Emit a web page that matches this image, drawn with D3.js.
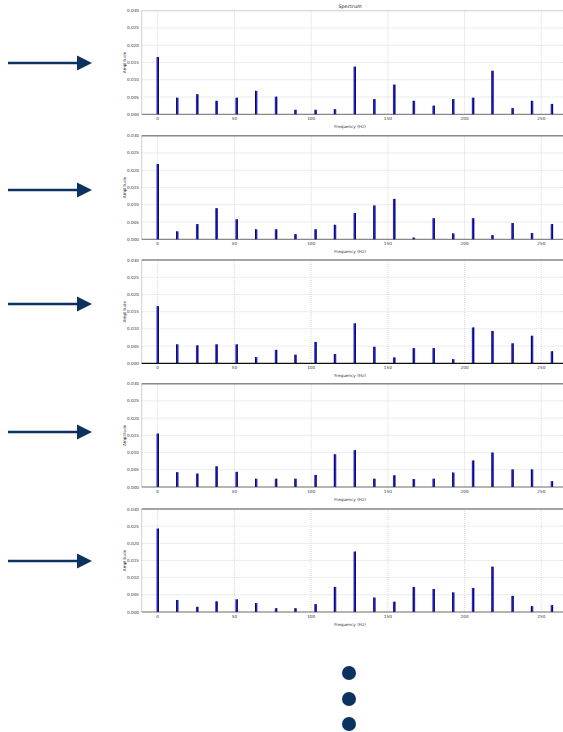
<!DOCTYPE html>
<html><head><meta charset="utf-8">
<script src="https://cdn.jsdelivr.net/npm/d3@7"></script>
<style>body{margin:0;background:#fff;}svg{display:block;font-family:"DejaVu Sans",sans-serif;}</style>
</head><body>
<svg id="c" width="563" height="732"></svg>
<script>
const freqs = [0, 12.8, 25.7, 38.5, 51.4, 64.2, 77.1, 89.9, 102.8, 115.6, 128.4, 141.3, 154.1, 167.0, 179.8, 192.7, 205.5, 218.3, 231.2, 244.0, 256.9];
const spectrum1 = [0.0166, 0.0048, 0.0058, 0.0039, 0.0048, 0.0068, 0.0051, 0.0013, 0.0013, 0.0015, 0.0138, 0.0044, 0.0086, 0.0039, 0.0025, 0.0044, 0.0048, 0.0126, 0.0018, 0.0039, 0.0030];
const spectrum2 = [0.0218, 0.0023, 0.0044, 0.0090, 0.0058, 0.0029, 0.0029, 0.0015, 0.0029, 0.0042, 0.0076, 0.0098, 0.0117, 0.0005, 0.0061, 0.0017, 0.0061, 0.0012, 0.0047, 0.0018, 0.0044];
const spectrum3 = [0.0166, 0.0055, 0.0052, 0.0055, 0.0055, 0.0018, 0.0039, 0.0025, 0.0062, 0.0027, 0.0116, 0.0048, 0.0017, 0.0044, 0.0044, 0.0012, 0.0104, 0.0094, 0.0058, 0.0080, 0.0035];
const spectrum4 = [0.0155, 0.0043, 0.0039, 0.0060, 0.0044, 0.0024, 0.0024, 0.0024, 0.0035, 0.0095, 0.0107, 0.0024, 0.0034, 0.0023, 0.0024, 0.0042, 0.0077, 0.0100, 0.0051, 0.0051, 0.0017];
const spectrum5 = [0.0243, 0.0035, 0.0015, 0.0031, 0.0037, 0.0026, 0.0011, 0.0011, 0.0023, 0.0073, 0.0176, 0.0042, 0.0030, 0.0073, 0.0067, 0.0057, 0.0070, 0.0132, 0.0047, 0.0017, 0.0020];
const spectra = [spectrum1, spectrum2, spectrum3, spectrum4, spectrum5];
const xTicks = [0, 50, 100, 150, 200, 250];
const yTicks = [0, 0.005, 0.010, 0.015, 0.020, 0.025, 0.030];
const yTickLabels = ["0.000", "0.005", "0.010", "0.015", "0.020", "0.025", "0.030"];
const titleText = "Spectrum";
const xLabelText = "Frequency (Hz)";
const yLabelText = "Amplitude";

const svg = d3.select("#c");
const panels = [
  {top: 10.7, bottom: 114.3, arrowY: 63},
  {top: 135.7, bottom: 239.3, arrowY: 190},
  {top: 260, bottom: 363.3, arrowY: 304},
  {top: 383.7, bottom: 487, arrowY: 432},
  {top: 509, bottom: 612, arrowY: 561}
];
const plotLeft = 141.7, plotRight = 563;
const x = d3.scaleLinear().domain([0, 250]).range([157.7, 541.3]);
const navy = "#0c3262";

panels.forEach((p, i) => {
  const y = d3.scaleLinear().domain([0, 0.030]).range([p.bottom, p.top]);
  const g = svg.append("g");
  g.selectAll(".hg").data(yTicks.slice(1)).enter().append("line")
    .attr("x1", plotLeft).attr("x2", plotRight)
    .attr("y1", d => y(d)).attr("y2", d => y(d))
    .attr("stroke", "#c8c8c8").attr("stroke-width", 0.7).attr("stroke-dasharray", "1,1");
  g.selectAll(".vg").data(xTicks).enter().append("line")
    .attr("x1", d => x(d)).attr("x2", d => x(d))
    .attr("y1", p.top).attr("y2", p.bottom)
    .attr("stroke", "#c8c8c8").attr("stroke-width", 0.7).attr("stroke-dasharray", "1,1");
  g.append("line").attr("x1", plotLeft).attr("x2", plotLeft).attr("y1", p.top).attr("y2", p.bottom)
    .attr("stroke", "#bbb").attr("stroke-width", 0.7);
  g.append("line").attr("x1", plotLeft).attr("x2", plotRight).attr("y1", p.top).attr("y2", p.top)
    .attr("stroke", i ? "#8a8a8a" : "#ccc").attr("stroke-width", i ? 1.6 : 0.8);
  const data = spectra[i];
  const bars = g.selectAll(".bar").data(freqs).enter().append("g");
  bars.append("rect")
    .attr("x", d => x(d) - 1.2).attr("width", 2.4)
    .attr("y", (d, j) => y(data[j])).attr("height", (d, j) => p.bottom - y(data[j]))
    .attr("fill", "#2626d6");
  bars.append("rect")
    .attr("x", (d, j) => j % 2 ? x(d) - 1.2 : x(d) + 0.2).attr("width", 1)
    .attr("y", (d, j) => y(data[j])).attr("height", (d, j) => p.bottom - y(data[j]))
    .attr("fill", "#0a0a48");
  g.append("line").attr("x1", plotLeft).attr("x2", plotRight).attr("y1", p.bottom).attr("y2", p.bottom)
    .attr("stroke", i === 2 ? "#111" : "#444").attr("stroke-width", i === 2 ? 1.3 : 0.8);
  g.selectAll(".yl").data(yTicks).enter().append("text")
    .attr("x", 139).attr("y", d => y(d) + 1.5)
    .attr("text-anchor", "end").attr("font-size", 4.2).attr("fill", "#333")
    .text((d, j) => yTickLabels[j]);
  g.selectAll(".xl").data(xTicks).enter().append("text")
    .attr("x", d => x(d)).attr("y", p.bottom + 6)
    .attr("text-anchor", "middle").attr("font-size", 4.2).attr("fill", "#333")
    .text(d => d);
  g.append("text").attr("x", 350).attr("y", p.bottom + 13.5)
    .attr("text-anchor", "middle").attr("font-size", 4.2).attr("fill", "#333").text(xLabelText);
  const cy = (p.top + p.bottom) / 2;
  g.append("text").attr("transform", `translate(126,${cy}) rotate(-90)`)
    .attr("text-anchor", "middle").attr("font-size", 4.2).attr("fill", "#333").text(yLabelText);
  svg.append("line").attr("x1", 8).attr("x2", 78).attr("y1", p.arrowY).attr("y2", p.arrowY)
    .attr("stroke", navy).attr("stroke-width", 2.6);
  svg.append("path").attr("d", `M77,${p.arrowY - 7.5} L92,${p.arrowY} L77,${p.arrowY + 7.5} Z`).attr("fill", navy);
});

svg.append("text").attr("x", 350).attr("y", 7.5).attr("text-anchor", "middle")
  .attr("font-size", 4.8).attr("fill", "#222").text(titleText);

const dotsY = [673, 699, 724];
svg.selectAll(".dot").data(dotsY).enter().append("circle")
  .attr("cx", 349).attr("cy", d => d).attr("r", 7).attr("fill", navy);
</script>
</body></html>
